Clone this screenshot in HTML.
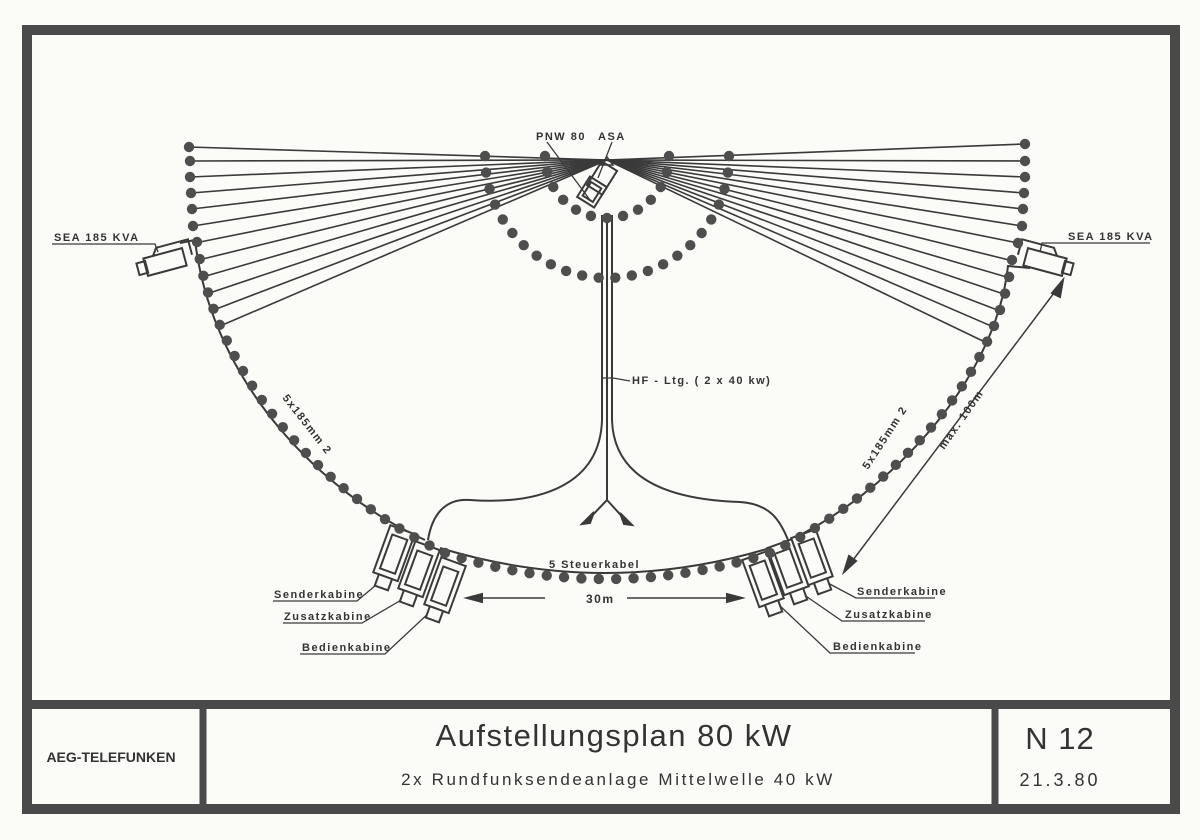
<!DOCTYPE html>
<html><head><meta charset="utf-8"><style>
html,body{margin:0;padding:0;background:#fbfbf8;}
svg{display:block;}
.l{font-family:"Liberation Sans Narrow","Liberation Sans",sans-serif;font-weight:bold;font-size:11px;fill:#333;letter-spacing:1.5px;}
</style></head><body>
<svg id="s" width="1200" height="840" viewBox="0 0 1200 840" xmlns="http://www.w3.org/2000/svg">
<rect width="1200" height="840" fill="#fbfbf8"/>
<g fill="none" stroke="#4a4a4a">
<rect x="27" y="30" width="1148" height="779" stroke-width="10"/>
<line x1="27" y1="704.5" x2="1175" y2="704.5" stroke-width="9"/>
<line x1="203" y1="704" x2="203" y2="809" stroke-width="7"/>
<line x1="995" y1="704" x2="995" y2="809" stroke-width="7"/>
</g>
<text x="111" y="762" text-anchor="middle" font-family="Liberation Sans,sans-serif" font-weight="bold" font-size="14" fill="#333">AEG-TELEFUNKEN</text>
<text x="614" y="746" text-anchor="middle" font-family="Liberation Sans,sans-serif" font-size="31" fill="#333" letter-spacing="1.5">Aufstellungsplan 80 kW</text>
<text x="618" y="785" text-anchor="middle" font-family="Liberation Sans,sans-serif" font-size="17" fill="#333" letter-spacing="2.6">2x Rundfunksendeanlage Mittelwelle 40 kW</text>
<text x="1060" y="749" text-anchor="middle" font-family="Liberation Sans,sans-serif" font-size="31" fill="#333" letter-spacing="1">N 12</text>
<text x="1060" y="786" text-anchor="middle" font-family="Liberation Sans,sans-serif" font-size="18" fill="#333" letter-spacing="3">21.3.80</text>

<g id="lines" stroke="#3a3a3a" stroke-width="1.6" fill="none"></g>
<g fill="none" stroke="#3a3a3a" stroke-width="2">
<path d="M180,243 L195,240 C212,385 325,495 425,540"/>
<path d="M1030,268 L1008,266 C995,385 885,495 790,540"/>
<path d="M440,548 Q605,598 770,548"/>
<path d="M602,215 L602,420 C600,485 540,505 470,500 C445,498 432,515 428,540"/>
<path d="M612,215 L612,420 C614,485 680,500 740,502 C770,504 780,520 788,540"/>
<path d="M607,215 L607,500 L586,522"/>
<path d="M607,500 L628,523"/>
<path d="M582,524 L594,512 L590,523 Z" fill="#3a3a3a"/>
<path d="M632,525 L620,513 L624,524 Z" fill="#3a3a3a"/>
<path d="M603,378 L613,378 L630,381" stroke-width="1.3"/>
<line x1="470" y1="598" x2="545" y2="598" stroke-width="1.5"/>
<line x1="627" y1="598" x2="738" y2="598" stroke-width="1.5"/>
<path d="M467,598 L482,594 L482,602 Z" fill="#3a3a3a"/>
<path d="M742,598 L727,594 L727,602 Z" fill="#3a3a3a"/>
<line x1="1060" y1="285" x2="847" y2="568" stroke-width="1.5"/>
<path d="M1063,280 L1052,293 L1060,297 Z" fill="#3a3a3a"/>
<path d="M844,572 L849,556 L856,561 Z" fill="#3a3a3a"/>
<g transform="translate(592,192) rotate(-58)"><rect x="-12" y="-10" width="24" height="20"/><rect x="-8" y="-6" width="16" height="12"/></g>
<g transform="translate(602,178) rotate(-58)"><rect x="-14" y="-9" width="28" height="18"/></g>
<path d="M607,157 L601,165 L613,165 Z" stroke-width="1.5"/>
<line x1="547" y1="142" x2="590" y2="200" stroke-width="1.3"/>
<line x1="612" y1="142" x2="598" y2="178" stroke-width="1.3"/>
<g transform="translate(165,262) rotate(-15)"><rect x="-20" y="-9" width="40" height="18"/><rect x="-28" y="-6" width="9" height="12"/><path d="M-10,-9 L-5,-16 L28,-16 L28,0"/></g>
<g transform="translate(1045,262) rotate(15)"><rect x="-20" y="-9" width="40" height="18"/><rect x="19" y="-6" width="9" height="12"/><path d="M10,-9 L5,-16 L-28,-16 L-28,0"/></g>
<path d="M52,244 L155,244 L158,252" stroke-width="1.3"/>
<path d="M1150,243 L1042,243 L1040,252" stroke-width="1.3"/>
<g stroke-width="1.3">
<path d="M273,601 L357,601 L382,580"/>
<path d="M283,623 L362,623 L408,596"/>
<path d="M300,654 L385,654 L432,610"/>
<path d="M935,598 L856,598 L826,582"/>
<path d="M925,621 L842,621 L800,592"/>
<path d="M915,653 L830,653 L778,604"/>
</g>
</g>
<g id="cabs" fill="#fbfbf8" stroke="#3a3a3a" stroke-width="2"></g>
<g id="dots" fill="#4e4e4e"></g>

<g class="l">
<text x="536" y="140">PNW 80</text>
<text x="598" y="140">ASA</text>
<text x="54" y="241">SEA 185 KVA</text>
<text x="1068" y="240">SEA 185 KVA</text>
<text x="632" y="384">HF - Ltg. ( 2 x 40 kw)</text>
<text x="549" y="568">5 Steuerkabel</text>
<text x="586" y="603" font-size="12">30m</text>
<text x="274" y="598">Senderkabine</text>
<text x="284" y="620">Zusatzkabine</text>
<text x="302" y="651">Bedienkabine</text>
<text x="857" y="595">Senderkabine</text>
<text x="845" y="618">Zusatzkabine</text>
<text x="833" y="650">Bedienkabine</text>
<text transform="translate(282,398) rotate(52)">5x185mm 2</text>
<text transform="translate(868,470) rotate(-57)">5x185mm 2</text>
<text transform="translate(944,450) rotate(-55)">max. 100m</text>
</g>
</svg>
<script>
(function(){
var NS="http://www.w3.org/2000/svg";
var dots=document.getElementById("dots"),lines=document.getElementById("lines"),cabs=document.getElementById("cabs");
function dot(x,y,r){var c=document.createElementNS(NS,"circle");c.setAttribute("cx",x);c.setAttribute("cy",y);c.setAttribute("r",r||5.2);dots.appendChild(c);}
function line(x1,y1,x2,y2){var l=document.createElementNS(NS,"line");l.setAttribute("x1",x1);l.setAttribute("y1",y1);l.setAttribute("x2",x2);l.setAttribute("y2",y2);lines.appendChild(l);}
function along(d,sp,skipFirst){var p=document.createElementNS(NS,"path");p.setAttribute("d",d);document.getElementById("s").appendChild(p);var L=p.getTotalLength();var n=Math.round(L/sp);var pts=[];for(var i=skipFirst?1:0;i<=n;i++){var q=p.getPointAtLength(L*i/n);pts.push([q.x,q.y]);}p.remove();return pts;}
var ax=607,ay=160;
var colL=[[189,147],[190,161],[190,177],[191,193],[192,209],[193,226]];
var colR=[[1025,144],[1025,161],[1025,177],[1024,193],[1023,209],[1022,226],[1018,243]];
var arcL=along("M197,242 C215,380 330,500 445,553",17);
var arcR=along("M1012,260 C995,385 880,500 770,553",17);
var bot=along("M445,553 Q605,605 770,553",17,true);
bot.pop();
colL.forEach(function(p){line(ax,ay,p[0],p[1]);dot(p[0],p[1]);});
colR.forEach(function(p){line(ax,ay,p[0],p[1]);dot(p[0],p[1]);});
arcL.forEach(function(p,i){if(i<6)line(ax,ay,p[0]+3,p[1]);dot(p[0],p[1]);});
arcR.forEach(function(p,i){if(i<6)line(ax,ay,p[0]-3,p[1]);dot(p[0],p[1]);});
bot.forEach(function(p){dot(p[0],p[1]);});
function ring(r,n){for(var i=0;i<=n;i++){var a=Math.PI*i/n;dot(607-r*Math.cos(a),156+r*Math.sin(a));}}
ring(62,12);ring(122,23);
function cab(x,y,rot){var g=document.createElementNS(NS,"g");g.setAttribute("transform","translate("+x+","+y+") rotate("+rot+")");
g.innerHTML='<rect x="-13" y="-28" width="26" height="50"/><rect x="-8" y="-20" width="16" height="36" fill="none"/><rect x="-7" y="22" width="14" height="12"/>';cabs.appendChild(g);}
cab(393,556,20);cab(418,572,20);cab(444,588,20);
cab(764,582,-20);cab(789,570,-20);cab(813,560,-20);
})();
</script>
</body></html>
